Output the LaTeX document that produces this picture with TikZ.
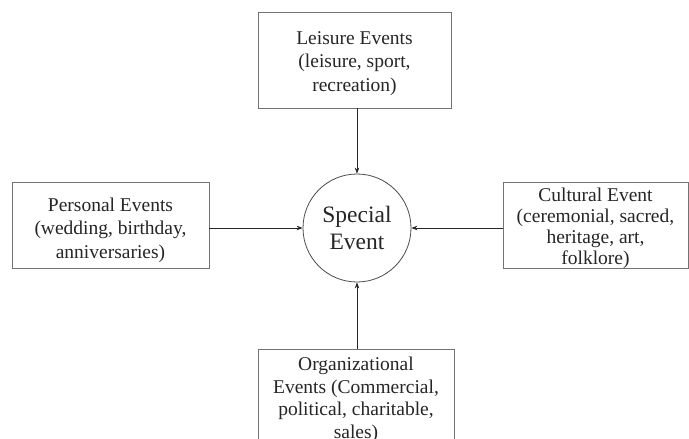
\documentclass[tikz,border=0pt]{standalone}
\usepackage{fontspec}
\setmainfont{Liberation Serif}
\usetikzlibrary{arrows.meta}
\begin{document}
\begin{tikzpicture}[x=1pt,y=-1pt,
  evbox/.style={draw=black!55, line width=0.8pt, inner sep=0pt},
  evtext/.style={align=center, inner sep=0pt, text=black!85,
    font=\fontsize{19.5}{23.5}\selectfont},
  hub/.style={draw=black!70, line width=0.8pt, circle, minimum size=108pt, inner sep=0pt,
    align=center, font=\fontsize{23.5}{27.5}\selectfont, text=black!85},
  link/.style={draw=black!85, line width=0.8pt, -{Stealth[length=6pt,width=4.5pt]}}]
  \clip (0,0) rectangle (689,439);
  \fill[white] (0,0) rectangle (689,439);

  % central circle
  \node[hub] (c) at (357,228) {Special\\Event};

  % surrounding event categories: frames
  \node[evbox, minimum width=193pt, minimum height=96pt] (leis) at (354.5,60) {};
  \node[evbox, minimum width=197pt, minimum height=86pt] (pers) at (110.5,225) {};
  \node[evbox, minimum width=185pt, minimum height=86pt] (cult) at (595.5,225) {};
  \node[evbox, minimum width=196pt, minimum height=99pt] (org) at (356,398.5) {};

  % surrounding event categories: captions
  \node[evtext] (leis-t) at (354.5,63.5)
    {Leisure Events\\(leisure, sport,\\recreation)};
  \node[evtext] (pers-t) at (110.5,230)
    {Personal Events\\(wedding, birthday,\\anniversaries)};
  \node[evtext, font=\fontsize{19.5}{21}\selectfont] (cult-t) at (595.5,228.5)
    {Cultural Event\\(ceremonial, sacred,\\heritage, art,\\folklore)};
  \node[evtext, font=\fontsize{19.5}{22.5}\selectfont] (org-t) at (356,400)
    {Organizational\\Events (Commercial,\\political, charitable,\\sales)};

  % connectors into the hub
  \draw[link] (c.north |- leis.south) -- (c.north);
  \draw[link] (pers.east |- c.west) -- (c.west);
  \draw[link] (cult.west |- c.east) -- (c.east);
  \draw[link] (c.south |- org.north) -- (c.south);
\end{tikzpicture}
\end{document}
